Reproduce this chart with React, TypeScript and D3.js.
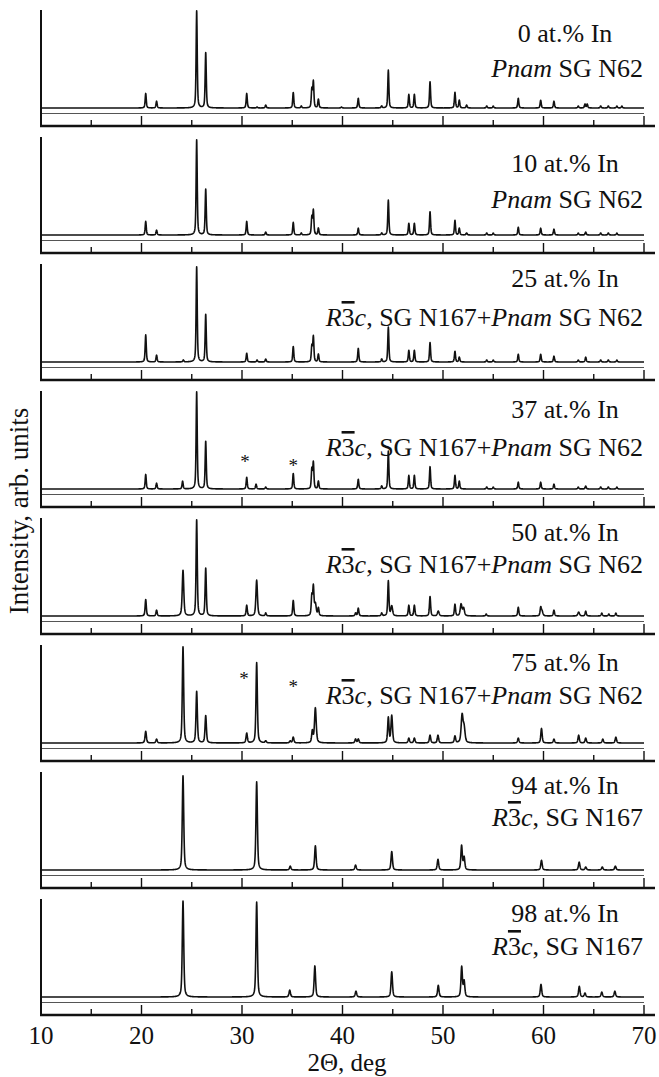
import React from "react";
import * as d3 from "d3";

// x axis
const xTicks = [10, 15, 20, 25, 30, 35, 40, 45, 50, 55, 60, 65, 70];
const xTickLabels = [10, 20, 30, 40, 50, 60, 70];

// sample composition and phase of each panel
const compositions = ["0", "10", "25", "37", "50", "75", "94", "98"];
const phases = ["pnam", "pnam", "mix", "mix", "mix", "mix", "r3c", "r3c"];

// peaks: [2theta, intensity (0-100), optional fwhm]
const peaks0 = [
  [20.42, 15], [21.5, 7], [25.49, 100], [26.39, 57], [30.47, 15], [31.5, 1], [32.36, 3],
  [35.1, 16], [35.9, 2], [36.95, 19], [37.1, 27], [37.6, 9], [39.9, 1], [41.57, 10],
  [43.9, 2], [44.56, 39], [46.6, 14], [47.15, 14], [48.71, 27], [51.19, 16], [51.62, 8],
  [52.35, 3], [54.35, 2], [55.0, 2], [57.49, 10], [59.72, 8], [61.04, 7], [63.46, 2],
  [64.13, 4], [64.35, 4], [65.69, 2], [66.45, 2], [67.3, 2], [67.8, 2]
];
const peaks10 = [
  [20.42, 14], [21.5, 5], [25.49, 98], [26.39, 47], [30.47, 14], [32.36, 3], [35.1, 13],
  [35.9, 2], [36.95, 18], [37.1, 25], [37.6, 7], [41.57, 7], [43.9, 2], [44.56, 36],
  [46.6, 12], [47.15, 12], [48.71, 24], [51.19, 15], [51.62, 7], [52.35, 2], [54.35, 2],
  [55.0, 2], [57.49, 8], [59.72, 7], [61.04, 6], [63.46, 2], [64.2, 3], [65.69, 2],
  [66.45, 2], [67.3, 2]
];
const peaks25 = [
  [20.42, 28], [21.5, 7], [24.16, 2], [25.49, 98], [26.39, 49], [30.47, 9], [31.5, 2],
  [32.36, 3], [35.1, 16], [36.95, 16], [37.1, 26], [37.6, 8], [41.57, 14], [43.9, 3],
  [44.56, 36], [46.6, 12], [47.15, 12], [48.71, 20], [51.19, 11], [51.62, 5], [54.35, 2],
  [55.0, 2], [57.49, 8], [59.72, 8], [61.04, 6], [63.46, 2], [64.2, 5], [65.69, 2],
  [66.45, 2], [67.3, 2]
];
const peaks37 = [
  [20.42, 15], [21.5, 6], [24.09, 8], [25.49, 100], [26.39, 49], [30.47, 12], [31.4, 5],
  [32.36, 2], [35.1, 16], [36.95, 20], [37.1, 27], [37.6, 8], [41.57, 10], [43.9, 3],
  [44.56, 39], [46.6, 14], [47.15, 14], [48.71, 23], [51.19, 14], [51.62, 8], [54.35, 2],
  [55.0, 2], [57.49, 7], [59.72, 7], [61.04, 5], [63.46, 2], [64.2, 3], [65.69, 2],
  [66.45, 2], [67.3, 2]
];
const peaks50 = [
  [20.42, 17], [21.5, 6], [24.13, 47, 0.18], [25.49, 99], [26.39, 49], [30.47, 11],
  [31.46, 37, 0.18], [32.36, 3], [35.1, 16], [36.95, 20], [37.1, 29], [37.3, 12, 0.2],
  [37.6, 8], [41.3, 3], [41.57, 8], [43.9, 3], [44.56, 36], [44.9, 10, 0.2], [46.6, 11],
  [47.15, 11], [48.71, 20], [49.53, 5, 0.2], [51.19, 12], [51.8, 12, 0.2], [52.05, 8, 0.2],
  [54.3, 2], [57.49, 9], [59.72, 8], [59.85, 5, 0.2], [61.04, 6], [63.5, 4, 0.2],
  [64.2, 5], [65.8, 3], [66.5, 2], [67.2, 3]
];
const peaks75 = [
  [20.42, 12], [21.5, 4], [24.13, 99], [25.49, 53], [26.39, 28], [30.47, 10], [31.46, 83],
  [32.36, 2], [34.8, 2], [35.1, 6], [37.0, 12], [37.3, 36, 0.2], [41.3, 4], [41.57, 4],
  [44.56, 26], [44.9, 28, 0.18], [46.6, 5], [47.15, 5], [48.71, 8], [49.5, 8],
  [51.19, 7], [51.9, 28, 0.22], [52.1, 15, 0.22], [57.49, 5], [59.8, 15], [61.04, 4],
  [63.5, 8], [64.2, 5], [65.9, 4], [67.2, 6]
];
const peaks94 = [
  [24.13, 97], [31.46, 91], [34.8, 4], [37.3, 25], [41.3, 5], [44.9, 19], [49.5, 11],
  [51.85, 25], [52.1, 13], [59.8, 10], [63.55, 8], [64.2, 3], [65.85, 3], [67.15, 4]
];
const peaks98 = [
  [24.13, 99], [31.46, 98], [34.75, 7], [37.25, 32], [41.34, 6], [44.9, 26], [49.53, 12],
  [51.86, 31], [52.1, 16], [59.75, 13], [63.56, 11], [64.13, 4], [65.8, 5], [67.1, 6]
];
const panelPeaks = [peaks0, peaks10, peaks25, peaks37, peaks50, peaks75, peaks94, peaks98];

// impurity marks (*): panel index, 2theta, intensity level
const asterisks = [
  [3, 30.3, 31], [3, 35.1, 27], [5, 30.2, 69], [5, 35.1, 61]
];

// layout
const W = 659, H = 1077;
const left = 41, right = 644;
const panelTop0 = 10, panelStep = 127, panelH = 116;
const fwhm = [0.13, 0.13, 0.13, 0.13, 0.14, 0.16, 0.17, 0.17];
const label1Dy = [32, 35, 23, 27, 23, 26, 22, 23];
const label2Dy = [67, 71, 62, 65, 55, 59, 54, 56];
const serif = "'Liberation Serif', 'Times New Roman', Times, serif";

const x = d3.scaleLinear().domain([10, 70]).range([left, right]);

function profile(peaks, w) {
  const grid = d3.range(10, 70.0001, 0.02).concat(peaks.map(p => p[0])).sort(d3.ascending);
  return grid.map(t => [
    t,
    d3.sum(peaks, p => {
      const hw = (p[2] ?? w) / 2;
      const u = (t - p[0]) / hw;
      return p[1] * (0.5 / (1 + u * u) + 0.5 * Math.exp(-Math.LN2 * u * u));
    })
  ]);
}

function PhaseLabel({ phase }) {
  if (phase === "pnam")
    return (
      <>
        <tspan fontStyle="italic">Pnam</tspan> SG N62
      </>
    );
  const r3c = (
    <>
      <tspan fontStyle="italic">R</tspan>
      <tspan style={{ textDecoration: "overline" }}>3</tspan>
      <tspan fontStyle="italic">c</tspan>, SG N167
    </>
  );
  if (phase === "r3c") return r3c;
  return (
    <>
      {r3c}+<tspan fontStyle="italic">Pnam</tspan> SG N62
    </>
  );
}

function Panel({ i }) {
  const top = panelTop0 + i * panelStep;
  const bottom = top + panelH;
  const y = d3.scaleLinear().domain([0, 100]).range([top + 98, top + 1]);
  const line = d3.line().x(d => x(d[0])).y(d => y(d[1]));
  const data = profile(panelPeaks[i], fwhm[i]);
  return (
    <g>
      <line x1={left} x2={right} y1={top + 103.5} y2={top + 103.5} stroke="#555" strokeWidth={1.2} />
      <path d={line(data)} fill="none" stroke="#111" strokeWidth={1.6} strokeLinejoin="round" />
      {xTicks.map(t => (
        <line key={t} x1={x(t)} x2={x(t)} y1={bottom} y2={bottom - (t % 10 === 0 ? 10 : 6)}
          stroke="#111" strokeWidth={1.4} />
      ))}
      <line x1={left} x2={left} y1={top} y2={bottom + 1} stroke="#111" strokeWidth={2} />
      <line x1={left - 1} x2={655} y1={bottom} y2={bottom} stroke="#111" strokeWidth={2.4} />
      {asterisks.filter(a => a[0] === i).map((a, k) => (
        <text key={k} x={x(a[1])} y={y(a[2]) + 9} textAnchor="middle" fontSize={19} fontFamily={serif} fill="#111">*</text>
      ))}
      <text x={565} y={top + label1Dy[i]} textAnchor="middle" fontSize={26} fontFamily={serif} fill="#111">
        {compositions[i]} at.% In
      </text>
      <text x={643} y={top + label2Dy[i]} textAnchor="end" fontSize={26} fontFamily={serif} fill="#111">
        <PhaseLabel phase={phases[i]} />
      </text>
    </g>
  );
}

export default function App() {
  const lastBottom = panelTop0 + 7 * panelStep + panelH;
  return (
    <svg width={W} height={H} style={{ position: "absolute", left: 0, top: 0, background: "#fff" }}>
      {compositions.map((c, i) => <Panel key={c} i={i} />)}
      {xTickLabels.map(t => (
        <text key={t} x={x(t)} y={lastBottom + 29} textAnchor="middle" fontSize={25} fontFamily={serif} fill="#111">{t}</text>
      ))}
      <text x={347} y={1071} textAnchor="middle" fontSize={25} fontFamily={serif} fill="#111">2Θ, deg</text>
      <text transform="translate(28,511) rotate(-90)" textAnchor="middle" fontSize={27} fontFamily={serif} fill="#111">
        Intensity, arb. units
      </text>
    </svg>
  );
}
